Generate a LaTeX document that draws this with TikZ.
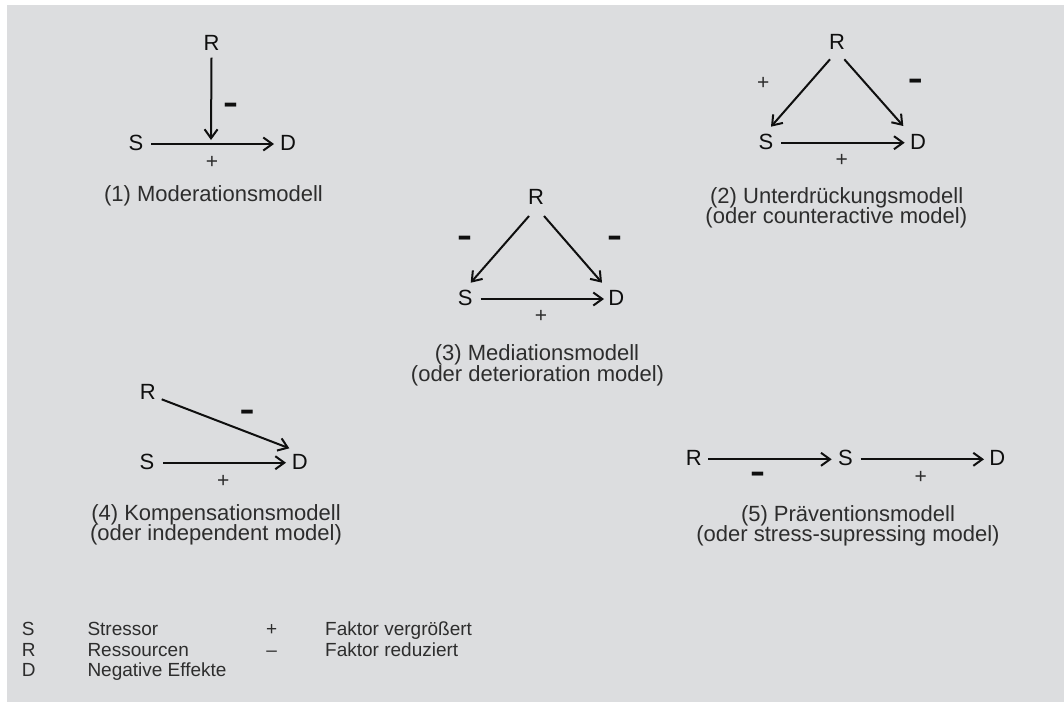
\documentclass[tikz,border=0pt]{standalone}
\usepackage{fontspec}
\setmainfont{Liberation Sans}
\usepackage{graphicx}
\usetikzlibrary{arrows.meta}
\definecolor{bg}{RGB}{220,221,223}
\definecolor{txt}{RGB}{45,45,45}
\definecolor{ln}{RGB}{15,15,15}
\begin{document}
\begin{tikzpicture}[x=1pt,y=-1pt,
  lt/.style={font=\fontsize{22}{22}\selectfont, text height=15.75pt, text depth=0pt, inner sep=0pt, text=ln},
  arr/.style={line width=2pt, draw=ln, -{Straight Barb[length=9pt,width=13pt]}},
  plus/.style={font=\fontsize{21}{21}\selectfont, anchor=base, inner sep=0pt, text=txt},
  minus/.style={font=\fontsize{36}{36}\selectfont\bfseries, anchor=base, inner sep=0pt, text=ln},
  lab/.style={font=\fontsize{22}{22}\selectfont, anchor=base, inner sep=0pt, text=txt},
  leg/.style={font=\fontsize{19}{19}\selectfont, anchor=base west, inner sep=0pt, text=txt},
  legc/.style={font=\fontsize{19}{19}\selectfont, anchor=base, inner sep=0pt, text=txt}]
\useasboundingbox (0,0) rectangle (1064,702);
\fill[bg] (7,5) rectangle (1064,702);

% ---------- (1) Moderationsmodell
\node[lt] (R1) at (211.5,42.5) {R};
\node[lt] (S1) at (136,143) {S};
\node[lt] (D1) at (288,143) {D};
\coordinate (J1) at (211,140);
\draw[arr] ([shift={(15,1)}]S1.center) -- ([shift={(-14,1)}]D1.center);
\draw[arr] ([shift={(0,15.2)}]R1.center) -- (J1);
\node[minus] (m1) at (230.5,113.1) {\scalebox{1.25}[0.9]{-}};
\node[plus] (p1) at (212,168.4) {+};
\node[lab] (L1) at (213.5,201.7) {(1) Moderationsmodell};

% ---------- (2) Unterdrueckungsmodell
\node[lt] (R2) at (837,42) {R};
\node[lt] (S2) at (766,142) {S};
\node[lt] (D2) at (918,142) {D};
\draw[arr] ([shift={(-7,17.3)}]R2.center) -- ([shift={(5,-15.3)}]S2.center);
\draw[arr] ([shift={(7.3,17.3)}]R2.center) -- ([shift={(-14.7,-16)}]D2.center);
\draw[arr] ([shift={(15.3,0.7)}]S2.center) -- ([shift={(-13.3,0.7)}]D2.center);
\node[plus] (p2a) at (763.3,89) {+};
\node[minus] (m2) at (915.3,89.4) {\scalebox{1.25}[0.9]{-}};
\node[plus] (p2b) at (841.7,166.6) {+};
\node[lab] (L2a) at (836.7,203.3) {(2) Unterdrückungsmodell};
\node[lab] (L2b) at (836.3,223.3) {(oder counteractive model)};

% ---------- (3) Mediationsmodell
\node[lt] (R3) at (536,196.7) {R};
\node[lt] (S3) at (465.3,298) {S};
\node[lt] (D3) at (616.3,298) {D};
\draw[arr] ([shift={(-7,19.3)}]R3.center) -- ([shift={(5.4,-15.3)}]S3.center);
\draw[arr] ([shift={(8,19.3)}]R3.center) -- ([shift={(-14.3,-15.3)}]D3.center);
\draw[arr] ([shift={(15.4,1)}]S3.center) -- ([shift={(-12.3,1)}]D3.center);
\node[minus] (m3a) at (464.5,246.6) {\scalebox{1.25}[0.9]{-}};
\node[minus] (m3b) at (614.5,246.6) {\scalebox{1.25}[0.9]{-}};
\node[plus] (p3) at (541,322.3) {+};
\node[lab] (L3a) at (537,360.7) {(3) Mediationsmodell};
\node[lab] (L3b) at (537.5,381) {(oder deterioration model)};

% ---------- (4) Kompensationsmodell
\node[lt] (R4) at (147.8,391.3) {R};
\node[lt] (S4) at (147,461.7) {S};
\node[lt] (D4) at (299.7,461.7) {D};
\draw[arr] ([shift={(13.9,8)}]R4.center) -- ([shift={(-10.4,-13.4)}]D4.center);
\draw[arr] ([shift={(16.3,1)}]S4.center) -- ([shift={(-13.7,1)}]D4.center);
\node[minus] (m4) at (247.2,420.3) {\scalebox{1.25}[0.9]{-}};
\node[plus] (p4) at (223.3,487.3) {+};
\node[lab] (L4a) at (216,520.7) {(4) Kompensationsmodell};
\node[lab] (L4b) at (216,540.7) {(oder independent model)};

% ---------- (5) Praeventionsmodell
\node[lt] (R5) at (693.7,458) {R};
\node[lt] (S5) at (845.5,458) {S};
\node[lt] (D5) at (997.2,458) {D};
\draw[arr] ([shift={(14.6,1.3)}]R5.center) -- ([shift={(-13.8,1.3)}]S5.center);
\draw[arr] ([shift={(15.2,1.3)}]S5.center) -- ([shift={(-13.2,1.3)}]D5.center);
\node[minus] (m5) at (757.5,482.8) {\scalebox{1.25}[0.9]{-}};
\node[plus] (p5) at (920.7,483.2) {+};
\node[lab] (L5a) at (848,521.7) {(5) Präventionsmodell};
\node[lab] (L5b) at (848,541.7) {(oder stress-supressing model)};

% ---------- legend
\node[leg] (k1) at (21.7,635) {S};
\node[leg] (k2) at (21.7,656) {R};
\node[leg] (k3) at (21.7,676.7) {D};
\node[leg] (v1) at (87.3,635) {Stressor};
\node[leg] (v2) at (87.3,656) {Ressourcen};
\node[leg] (v3) at (87.3,676.7) {Negative Effekte};
\node[legc] (s1) at (271.7,635) {+};
\node[legc] (s2) at (271.7,656) {–};
\node[leg] (f1) at (325,635) {Faktor vergrößert};
\node[leg] (f2) at (325,656) {Faktor reduziert};
\end{tikzpicture}
\end{document}
